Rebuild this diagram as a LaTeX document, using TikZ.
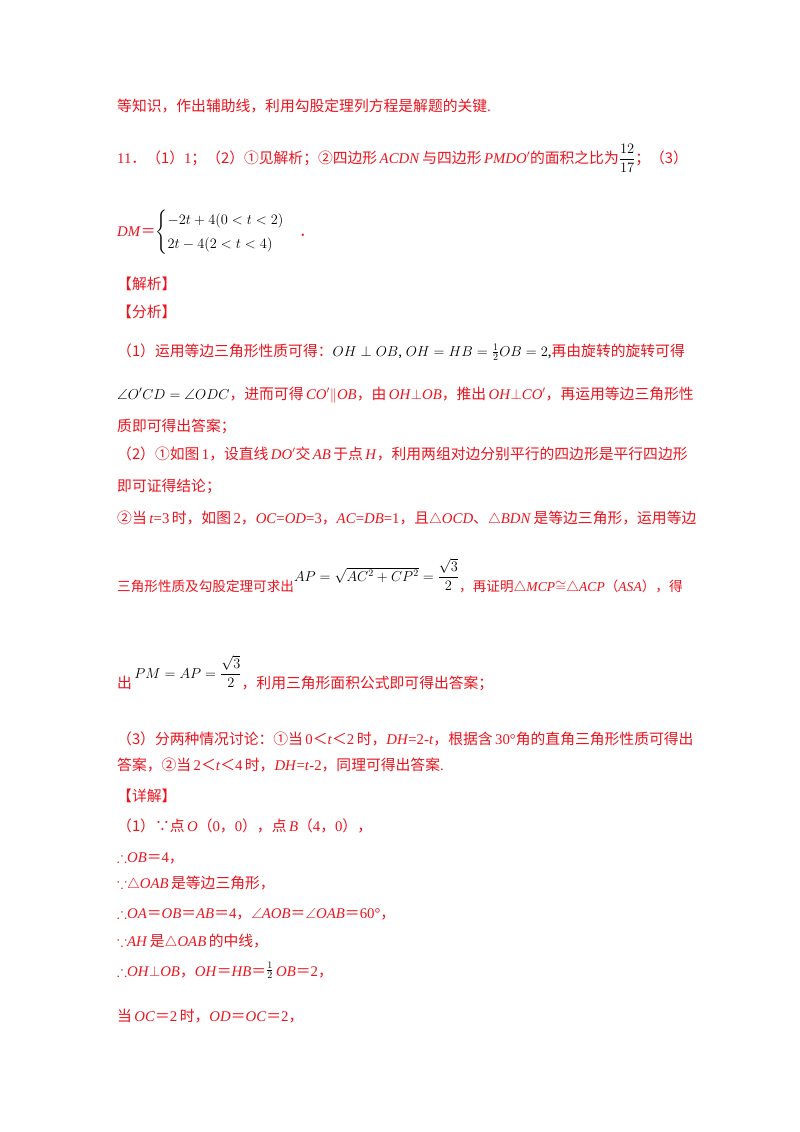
\documentclass[tikz,border=0pt]{standalone}
\usepackage{fontspec}
\usepackage{amsmath,amssymb}
\setmainfont{Liberation Serif}
\newfontfamily\cjk{Noto Sans CJK SC}
\newcommand{\C}[1]{{\cjk #1}}
\newcommand{\I}[1]{\textit{#1}}
\definecolor{rd}{RGB}{235,20,30}
\begin{document}
\begin{tikzpicture}[x=1pt,y=-1pt,
  t/.style={anchor=base west,inner sep=0,font=\fontsize{14.8}{17}\selectfont,text=rd}]
\useasboundingbox[fill=white] (0,0) rectangle (800,1132);
\node[t] (l1) at (117,111) {\C{等知识，作出辅助线，利用勾股定理列方程是解题的关键}.};
\node[t] (l2) at (117,163) {11\C{．（1）}1\C{；（2）①见解析；②四边形}\,\I{ACDN}\,\C{与四边形}\,\I{PMDO$'$}\C{的面积之比为}\textcolor{black}{$\dfrac{12}{17}$}\C{；（3）}};
\node[t] (l3) at (117,236) {\I{DM}\C{＝}\textcolor{black}{$\begin{cases}-2t+4(0<t<2)\\[4pt] 2t-4(2<t<4)\end{cases}$}\C{．}};
\node[t] (l4) at (117,289) {\C{【解析】}};
\node[t] (l5) at (117,317) {\C{【分析】}};
\node[t] (l6) at (117,356) {\C{（1）运用等边三角形性质可得：}\textcolor{black}{$OH\perp OB$, $OH=HB=\tfrac12 OB=2$,}\C{再由旋转的旋转可得}};
\node[t] (l7) at (117,399) {\textcolor{black}{$\angle O'CD=\angle ODC$}\C{，进而可得}\,\I{CO$'$}$\|$\I{OB}\C{，由}\,\I{OH}$\perp$\I{OB}\C{，推出}\,\I{OH}$\perp$\I{CO$'$}\C{，再运用等边三角形性}};
\node[t] (l8) at (117,431) {\C{质即可得出答案；}};
\node[t] (l9) at (117,459) {\C{（2）①如图}\,1\C{，设直线}\,\I{DO$'$}\C{交}\,\I{AB}\,\C{于点}\,\I{H}\C{，利用两组对边分别平行的四边形是平行四边形}};
\node[t] (l10) at (117,491) {\C{即可证得结论；}};
\node[t] (l11) at (117,523) {\C{②当}\,\I{t}=3\,\C{时，如图}\,2\C{，}\I{OC}=\I{OD}=3\C{，}\I{AC}=\I{DB}=1\C{，且}$\triangle$\I{OCD}\C{、}$\triangle$\I{BDN}\,\C{是等边三角形，运用等边}};
\node[t,font=\fontsize{13.6}{16}\selectfont] (l12) at (117,591) {\C{三角形性质及勾股定理可求出}\raisebox{10pt}{\textcolor{black}{$AP=\sqrt{AC^2+CP^2}=\dfrac{\sqrt3}{2}$}}\C{，再证明}$\triangle$\I{MCP}$\cong$$\triangle$\I{ACP}\C{（}\I{ASA}\C{），得}};
\node[t] (l13) at (117,688) {\C{出}\,\raisebox{10pt}{\textcolor{black}{$PM=AP=\dfrac{\sqrt3}{2}$}}\C{，利用三角形面积公式即可得出答案；}};
\node[t] (l14) at (117,744) {\C{（3）分两种情况讨论：①当}\,0\C{＜}\I{t}\C{＜}2\,\C{时，}\I{DH}=2-\I{t}\C{，根据含}\,30°\C{角的直角三角形性质可得出}};
\node[t] (l15) at (117,770) {\C{答案，②当}\,2\C{＜}\I{t}\C{＜}4\,\C{时，}\I{DH}=\I{t}-2\C{，同理可得出答案}.};
\node[t] (l16) at (117,801) {\C{【详解】}};
\node[t] (l17) at (117,831) {\C{（1）∵点}\,\I{O}\C{（}0\C{，}0\C{），点}\,\I{B}\C{（}4\C{，}0\C{），}};
\node[t] (l18) at (117,862) {$\therefore$\I{OB}\C{＝}4\C{，}};
\node[t] (l19) at (117,888) {$\because$$\triangle$\I{OAB}\,\C{是等边三角形，}};
\node[t] (l20) at (117,918) {$\therefore$\I{OA}\C{＝}\I{OB}\C{＝}\I{AB}\C{＝}4\C{，}$\angle$\I{AOB}\C{＝}$\angle$\I{OAB}\C{＝}60°\C{，}};
\node[t] (l21) at (117,946) {$\because$\I{AH}\,\C{是}$\triangle$\I{OAB}\,\C{的中线，}};
\node[t] (l22) at (117,976) {$\therefore$\I{OH}$\perp$\I{OB}\C{，}\I{OH}\C{＝}\I{HB}\C{＝}\raisebox{2pt}{\textcolor{black}{$\tfrac12$}}\,\I{OB}\C{＝}2\C{，}};
\node[t] (l23) at (117,1021) {\C{当}\,\I{OC}\C{＝}2\,\C{时，}\I{OD}\C{＝}\I{OC}\C{＝}2\C{，}};
\end{tikzpicture}
\end{document}
